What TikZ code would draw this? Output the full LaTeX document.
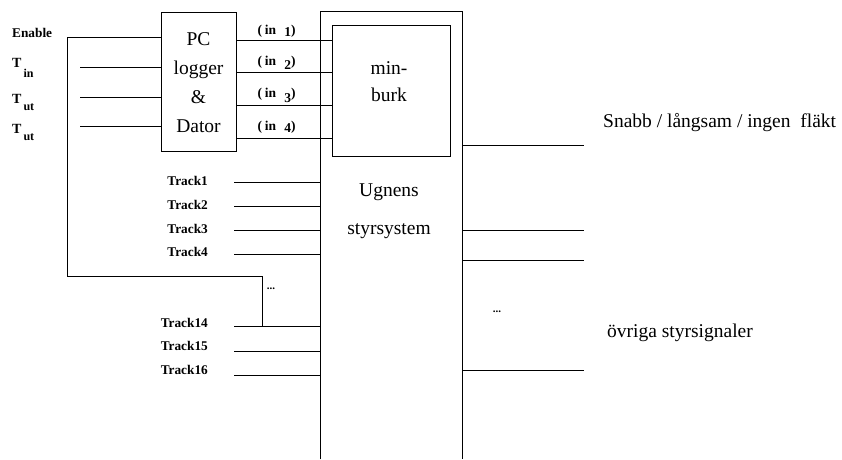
\documentclass[tikz,border=0pt]{standalone}
\usepackage{fontspec}
\setmainfont{Liberation Serif}
\begin{document}
\begin{tikzpicture}[x=1pt,y=-1pt,
  wire/.style={line width=1pt},
  box/.style={draw,line width=1pt,inner sep=0pt},
  big/.style={font=\fontsize{19.5}{29}\selectfont},
  small/.style={font=\bfseries\fontsize{13.3}{15}\selectfont},
  tlab/.style={anchor=base west,inner sep=0pt,font=\bfseries\fontsize{14}{16}\selectfont},
  inlab/.style={font=\bfseries\fontsize{13.5}{15}\selectfont,inner sep=0pt},
  dots/.style={font=\bfseries\fontsize{11}{12}\selectfont,inner sep=0pt}
]
\useasboundingbox (0,0) rectangle (842,459);

% boxes
\node[box,big,minimum width=75pt,minimum height=139pt,align=center] (pc) at (198.5,82.2) {PC\\logger\\\&\\Dator};
\node[minimum width=141.7pt,minimum height=448pt,inner sep=0pt,anchor=north west] (ugn) at (320,11) {};
\draw[wire] (ugn.south west) -- (ugn.north west) -- (ugn.north east) -- (ugn.south east);
\node[box,minimum width=117.7pt,minimum height=131pt] (mb) at (391.2,90.5) {};
\node[big,align=center,font=\fontsize{19.5}{27}\selectfont] (mbt) at (389,81.5) {min-\\burk};
\node[align=center,font=\fontsize{19.5}{38}\selectfont] (ugt) at (389,211) {Ugnens\\styrsystem};

% left labels
\node[small,anchor=west,inner sep=0pt] (enl) at (12,33) {Enable};
\node[tlab] (tinl) at (12,67) {T\hspace{2pt}\raisebox{-10pt}{\fontsize{12}{14}\selectfont in}};
\node[tlab] (tut1) at (12,103) {T\hspace{2pt}\raisebox{-7pt}{\fontsize{12}{14}\selectfont ut}};
\node[tlab] (tut2) at (12,133) {T\hspace{2pt}\raisebox{-7pt}{\fontsize{12}{14}\selectfont ut}};

% inputs to PC
\coordinate (en) at (67,37.3);
\coordinate (ebend) at (67,276.7);
\coordinate (ejoin) at (262,276.7);
\coordinate (ti) at (80,67.7);
\coordinate (tu1) at (80,97.3);
\coordinate (tu2) at (80,126.7);
\draw[wire] (ti) -- (ti -| pc.west);
\draw[wire] (tu1) -- (tu1 -| pc.west);
\draw[wire] (tu2) -- (tu2 -| pc.west);

% PC -> minburk
\coordinate (c1) at (280,40);
\coordinate (c2) at (280,72.3);
\coordinate (c3) at (280,105.3);
\coordinate (c4) at (280,138.3);
\foreach \c in {c1,c2,c3,c4}{\draw[wire] (\c -| pc.east) -- (\c -| mb.west);}
\node[inlab] (l1) at (276.5,31) {(\hspace{3pt}in\hspace{8pt}\raisebox{-2pt}{1})};
\node[inlab] (l2) at (276.5,63) {(\hspace{3pt}in\hspace{8pt}\raisebox{-4pt}{2})};
\node[inlab] (l3) at (276.5,95) {(\hspace{3pt}in\hspace{8pt}\raisebox{-5pt}{3})};
\node[inlab] (l4) at (276.5,127) {(\hspace{3pt}in\hspace{8pt}\raisebox{-2pt}{4})};

% tracks
\node[small,anchor=east,inner sep=0pt] (tr1) at (208,181) {Track1};
\node[small,anchor=east,inner sep=0pt] (tr2) at (208,205) {Track2};
\node[small,anchor=east,inner sep=0pt] (tr3) at (208,229) {Track3};
\node[small,anchor=east,inner sep=0pt] (tr4) at (208,252) {Track4};
\node[small,anchor=east,inner sep=0pt] (tr14) at (208,323) {Track14};
\node[small,anchor=east,inner sep=0pt] (tr15) at (208,346) {Track15};
\node[small,anchor=east,inner sep=0pt] (tr16) at (208,370) {Track16};
\coordinate (t1) at (234,182.7);
\coordinate (t2) at (234,206);
\coordinate (t3) at (234,230.7);
\coordinate (t4) at (234,254);
\coordinate (t14) at (234,326.7);
\coordinate (t15) at (234,351.7);
\coordinate (t16) at (234,375);
\foreach \t in {t1,t2,t3,t4,t14,t15,t16}{\draw[wire] (\t) -- (\t -| ugn.west);}

% enable loop
\draw[wire] (en -| pc.west) -- (en) -- (ebend) -- (ejoin) -- (ejoin |- t14);
\node[dots] (dl) at (271,289) {...};

% right outputs
\coordinate (o1) at (584,145);
\coordinate (o2) at (584,230);
\coordinate (o3) at (584,260);
\coordinate (o4) at (584,370);
\foreach \o in {o1,o2,o3,o4}{\draw[wire] (\o -| ugn.east) -- (\o);}
\node[dots] (dr) at (497,312) {...};
\node[big,anchor=west,inner sep=0pt] (snabb) at (603,122.7) {Snabb / långsam / ingen\ \ fläkt};
\node[big,anchor=west,inner sep=0pt] (ovr) at (607,333) {övriga styrsignaler};
\end{tikzpicture}
\end{document}
